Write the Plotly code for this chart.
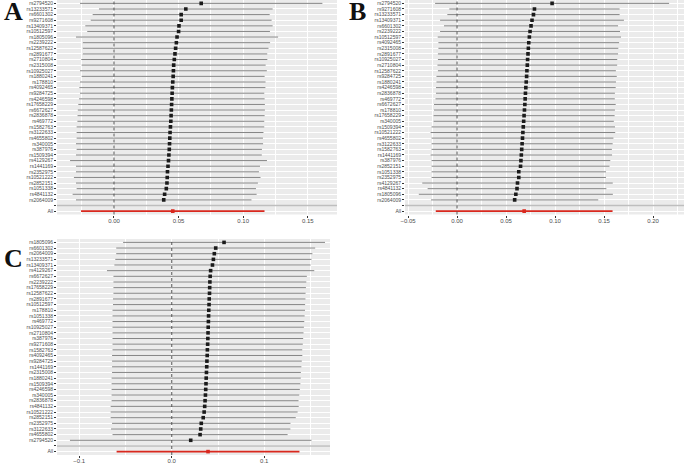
import plotly.graph_objects as go

W, H = 685, 464

# ---------------- data ----------------
snp_a = ["rs2794520", "rs13233571", "rs6601302", "rs9271608", "rs13409371", "rs10512597",
         "rs1805096", "rs2239222", "rs12587622", "rs2891677", "rs2710804", "rs2315008",
         "rs10925027", "rs1880241", "rs178810", "rs4092465", "rs9284725", "rs4246598",
         "rs17658229", "rs6672627", "rs2836878", "rs469772", "rs1582763", "rs3122633",
         "rs4655802", "rs340005", "rs387976", "rs1509394", "rs4129267", "rs1441169",
         "rs2352975", "rs10521222", "rs2852151", "rs1051338", "rs4841132", "rs2064009"]
b_a = [0.0675, 0.0556, 0.0520, 0.0520, 0.0503, 0.0500, 0.0488, 0.0483, 0.0477, 0.0472,
       0.0467, 0.0462, 0.0460, 0.0458, 0.0455, 0.0452, 0.0450, 0.0448, 0.0446, 0.0444,
       0.0442, 0.0440, 0.0437, 0.0434, 0.0432, 0.0430, 0.0428, 0.0425, 0.0422, 0.0418,
       0.0414, 0.0412, 0.0410, 0.0405, 0.0392, 0.0385]
lo_a = [-0.0263, -0.0116, -0.0165, -0.0180, -0.0222, -0.0207, -0.0294, -0.0242, -0.0242,
        -0.0242, -0.0253, -0.0250, -0.0263, -0.0250, -0.0263, -0.0268, -0.0263, -0.0270,
        -0.0276, -0.0280, -0.0282, -0.0283, -0.0289, -0.0289, -0.0289, -0.0294, -0.0289,
        -0.0294, -0.0340, -0.0294, -0.0294, -0.0310, -0.0294, -0.0289, -0.0320, -0.0294]
all_a = [0.0455, -0.0255, 0.1165]

snp_b = ["rs2794520", "rs9271608", "rs13233571", "rs13409371", "rs6601302", "rs2239222",
         "rs10512597", "rs4092465", "rs2315008", "rs2891677", "rs10925027", "rs2710804",
         "rs12587622", "rs9284725", "rs1880241", "rs4246598", "rs2836878", "rs469772",
         "rs6672627", "rs178810", "rs17658229", "rs340005", "rs1509394", "rs10521222",
         "rs4655802", "rs3122633", "rs1582763", "rs1441169", "rs387976", "rs2852151",
         "rs1051338", "rs2352975", "rs4129267", "rs4841132", "rs1805096", "rs2064009"]
b_b = [0.0970, 0.0790, 0.0780, 0.0765, 0.0755, 0.0745, 0.0738, 0.0732, 0.0728, 0.0724,
       0.0720, 0.0717, 0.0713, 0.0710, 0.0706, 0.0702, 0.0698, 0.0695, 0.0692, 0.0688,
       0.0684, 0.0680, 0.0676, 0.0672, 0.0668, 0.0664, 0.0660, 0.0656, 0.0652, 0.0648,
       0.0630, 0.0630, 0.0617, 0.0612, 0.0600, 0.0588]
lo_b = [-0.0224, -0.0079, -0.0099, -0.0173, -0.0133, -0.0173, -0.0197, -0.0190, -0.0190,
        -0.0195, -0.0195, -0.0200, -0.0195, -0.0210, -0.0210, -0.0215, -0.0215, -0.0220,
        -0.0235, -0.0235, -0.0240, -0.0240, -0.0260, -0.0270, -0.0260, -0.0260, -0.0260,
        -0.0270, -0.0260, -0.0260, -0.0260, -0.0260, -0.0355, -0.0300, -0.0390, -0.0265]
all_b = [0.0685, -0.0217, 0.1587]

snp_c = ["rs1805096", "rs6601302", "rs2064009", "rs13233571", "rs13409371", "rs4129267",
         "rs6672627", "rs2239222", "rs17658229", "rs12587622", "rs2891677", "rs10512597",
         "rs178810", "rs1051338", "rs469772", "rs10925027", "rs2710804", "rs387976",
         "rs9271608", "rs1582763", "rs4092465", "rs9284725", "rs1441169", "rs2315008",
         "rs1880241", "rs1509394", "rs4246598", "rs340005", "rs2836878", "rs4841132",
         "rs10521222", "rs2852151", "rs2352975", "rs3122633", "rs4655802", "rs2794520"]
b_c = [0.0565, 0.0475, 0.0460, 0.0450, 0.0440, 0.0420, 0.0415, 0.0412, 0.0410, 0.0408,
       0.0405, 0.0403, 0.0400, 0.0398, 0.0396, 0.0394, 0.0392, 0.0390, 0.0388, 0.0385,
       0.0383, 0.0380, 0.0378, 0.0375, 0.0372, 0.0370, 0.0367, 0.0364, 0.0360, 0.0356,
       0.0350, 0.0340, 0.0319, 0.0313, 0.0306, 0.0205]
lo_c = [-0.0526, -0.0600, -0.0600, -0.0610, -0.0620, -0.0700, -0.0630, -0.0630, -0.0630,
        -0.0630, -0.0635, -0.0635, -0.0640, -0.0640, -0.0640, -0.0640, -0.0640, -0.0640,
        -0.0640, -0.0640, -0.0645, -0.0645, -0.0645, -0.0645, -0.0650, -0.0650, -0.0650,
        -0.0650, -0.0650, -0.0660, -0.0660, -0.0660, -0.0645, -0.0656, -0.0640, -0.1100]
all_c = [0.0392, -0.0596, 0.1380]

panels = [
    dict(label="A", snps=snp_a, b=b_a, lo=lo_a, all=all_a,
         px=(57, 337), py=(0, 214.5), rng=(-0.0441, 0.1726),
         ticks=[0.0, 0.05, 0.10, 0.15], ticktext=["0.00", "0.05", "0.10", "0.15"],
         minor=[-0.025, 0.025, 0.075, 0.125], letter_xy=(13.5, 12)),
    dict(label="B", snps=snp_b, b=b_b, lo=lo_b, all=all_b,
         px=(405, 684), py=(0, 214.5), rng=(-0.0531, 0.2316),
         ticks=[-0.05, 0.0, 0.05, 0.10, 0.15, 0.20],
         ticktext=["\u22120.05", "0.00", "0.05", "0.10", "0.15", "0.20"],
         minor=[-0.025, 0.025, 0.075, 0.125, 0.175, 0.225], letter_xy=(357.5, 12)),
    dict(label="C", snps=snp_c, b=b_c, lo=lo_c, all=all_c,
         px=(57, 330), py=(239, 455), rng=(-0.124, 0.171),
         ticks=[-0.1, 0.0, 0.1], ticktext=["\u22120.1", "0.0", "0.1"],
         minor=[-0.05, 0.05, 0.15], letter_xy=(13.5, 258)),
]

fig = go.Figure()
GRID = "#FFFFFF"
BG = "#EBEBEB"

for k, p in enumerate(panels):
    xa = "x" if k == 0 else f"x{k+1}"
    ya = "y" if k == 0 else f"y{k+1}"
    n = len(p["snps"])
    ypos = [n + 2 - i for i in range(n)]  # SNPs top->bottom, blank at 2, All at 1
    up = [2 * bb - ll for bb, ll in zip(p["b"], p["lo"])]
    ex, ey = [], []
    for l, u, yy in zip(p["lo"], up, ypos):
        ex += [l, u, None]
        ey += [yy, yy, None]
    fig.add_trace(go.Scatter(x=ex, y=ey, mode="lines", xaxis=xa, yaxis=ya,
                             line=dict(color="#858585", width=1), hoverinfo="skip",
                             showlegend=False))
    fig.add_trace(go.Scatter(x=p["b"], y=ypos, mode="markers", xaxis=xa, yaxis=ya,
                             marker=dict(color="#1A1A1A", size=3.6, symbol="square"),
                             showlegend=False))
    ab, alo, aup = p["all"]
    fig.add_trace(go.Scatter(x=[alo, aup], y=[1, 1], mode="lines", xaxis=xa, yaxis=ya,
                             line=dict(color="#D9281E", width=1.6), showlegend=False))
    fig.add_trace(go.Scatter(x=[ab], y=[1], mode="markers", xaxis=xa, yaxis=ya,
                             marker=dict(color="#D9281E", size=3.6, symbol="square"),
                             showlegend=False))
    fig.add_shape(type="line", xref=f"{xa} domain", yref=ya, x0=0, x1=1, y0=2, y1=2,
                  line=dict(color="#BEBEBE", width=1.5))
    fig.add_shape(type="line", xref=xa, yref=f"{ya} domain", x0=0, x1=0, y0=0, y1=1,
                  line=dict(color="#555555", width=1, dash="dot"))

    x0, x1 = p["px"]
    y0, y1 = p["py"]
    xkey = "xaxis" if k == 0 else f"xaxis{k+1}"
    ykey = "yaxis" if k == 0 else f"yaxis{k+1}"
    fig.layout[xkey] = dict(domain=[x0 / W, x1 / W], anchor=ya, range=list(p["rng"]),
                            tickvals=p["ticks"], ticktext=p["ticktext"], automargin=False,
                            showgrid=True, gridcolor=GRID, gridwidth=1, zeroline=False,
                            ticks="outside", ticklen=2, tickcolor="#333333",
                            ticklabelstandoff=-2,
                            tickfont=dict(size=6, color="#4D4D4D", family="Liberation Sans"),
                            minor=dict(tickvals=p["minor"], showgrid=True, gridcolor=GRID,
                                       gridwidth=0.5, ticks=""),
                            showline=False, fixedrange=True)
    fig.layout[ykey] = dict(domain=[1 - y1 / H, 1 - y0 / H], anchor=xa,
                            range=[0.4, n + 2 + 0.6], automargin=False,
                            tickvals=list(range(1, n + 3)),
                            ticktext=["All", ""] + p["snps"][::-1],
                            showgrid=True, gridcolor=GRID, gridwidth=1, zeroline=False,
                            ticks="outside", ticklen=2, tickcolor="#333333",
                            tickfont=dict(size=5, color="#4D4D4D", family="Liberation Sans"),
                            showline=False, fixedrange=True)
    lx, ly = p["letter_xy"]
    fig.add_annotation(text=f"<b>{p['label']}</b>", x=lx / W, y=1 - ly / H,
                       xref="paper", yref="paper", showarrow=False,
                       xanchor="center", yanchor="middle",
                       font=dict(size=26, family="Liberation Serif", color="#111111"))

fig.update_layout(width=W, height=H, margin=dict(l=0, r=0, t=0, b=0),
                  paper_bgcolor="white", plot_bgcolor=BG)

fig.write_html("out.html", config={"displayModeBar": False},
               post_script="document.body.style.margin='0';")
